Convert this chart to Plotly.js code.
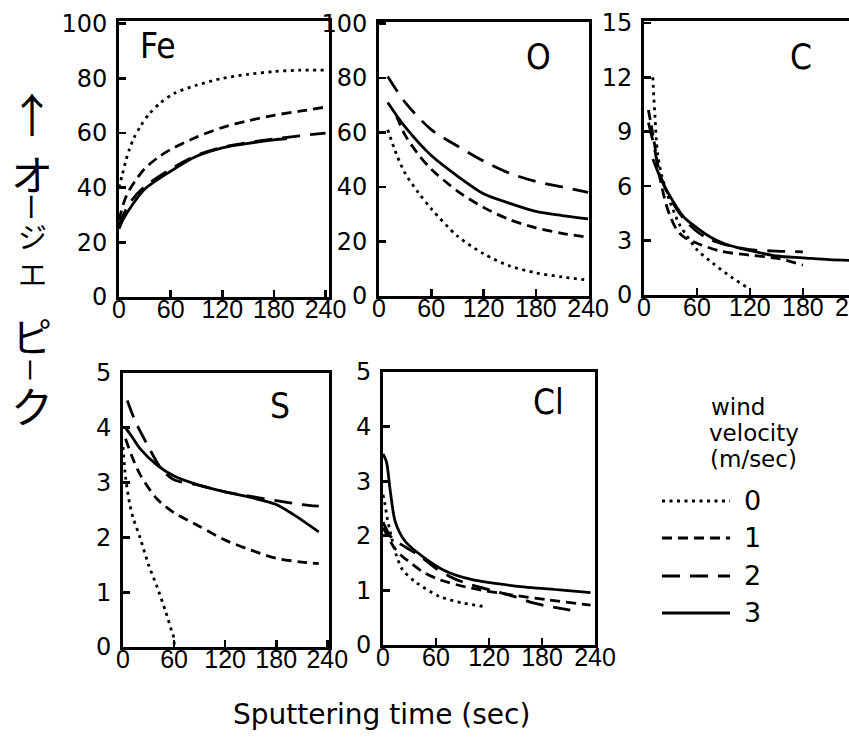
<!DOCTYPE html>
<html><head><meta charset="utf-8">
<script src="https://cdn.plot.ly/plotly-3.0.1.min.js"></script>
<style>html,body{margin:0;padding:0;overflow:hidden;background:#fff}#chart{width:875px;height:739px}</style>
</head><body><div id="chart"></div><script>
// ---- data (sputtering time in sec, Auger peak height) ----
const velocities = ['0','1','2','3'];
// Fe
const feT0=[0,4,8,12,17,25,35,48,64,90,120,150,180,210,240];
const feV0=[40,45,50,54,58,62.5,67,71,74.5,77.5,80,81.5,82.5,83,83];
const feT1=[0,5,10,20,30,45,60,90,120,150,180,210,240];
const feV1=[28,34,38,43,47,51,54,58.5,62,64.5,66.5,68,69.5];
const feT2=[0,5,15,30,60,90,120,150,180,210,240];
const feV2=[26,30,35.5,40.5,46.8,51.8,54.8,56.5,57.8,59,60];
const feT3=[0,5,15,30,60,90,120,150,180,195];
const feV3=[25,28.5,33.5,39.5,46,51.5,54.6,56.2,57.5,58];
// O
const oT0=[10,20,30,45,60,90,120,150,180,210,240];
const oV0=[61,52,45,38,32,22,15.5,11,8.5,7,5.8];
const oT1=[20,30,45,60,90,120,150,180,210,240];
const oV1=[66,59,52,46.5,38.5,32.5,28,25,23,21.5];
const oT2=[10,30,60,90,120,150,180,210,240];
const oV2=[80.5,71,61,55,49.5,45,42,40,38];
const oT3=[10,30,60,90,120,150,180,210,240];
const oV3=[71,62,51.5,44,37.5,34,31,29.5,28.3];
// C
const cT0=[10,11,12.5,14,16,20,29,40,48,60,78,100,116,120];
const cV0=[12,11,9.8,8.5,7.6,6.6,5.2,3.9,3.3,2.5,1.75,0.95,0.45,0.35];
const cT1=[5,8,12,16,20,25,30,37,45,60,88,119,153,180];
const cV1=[10.2,9.4,8.3,7.0,6.0,5.0,4.3,3.6,3.2,2.85,2.4,2.2,2.0,1.65];
const cT2=[5,10,15,20,30,45,60,75,90,120,150,180];
const cV2=[9.5,8.5,7.3,6.4,5.3,4.2,3.5,3.05,2.8,2.5,2.42,2.38];
const cT3=[10,20,30,45,60,75,90,105,120,150,180,210,240];
const cV3=[7.5,6.3,5.4,4.3,3.7,3.2,2.85,2.62,2.45,2.15,2.05,1.95,1.9];
// S
const sT0=[0,3,8,12,20,30,40,50,57,60,60];
const sV0=[3.65,3.1,2.6,2.35,2.0,1.5,1.1,0.65,0.3,0.15,0];
const sT1=[3,10,20,40,60,90,120,150,180,210,230];
const sV1=[3.8,3.5,3.15,2.7,2.45,2.2,1.95,1.77,1.62,1.55,1.52];
const sT2=[5,15,30,45,60,90,120,150,180,210,230];
const sV2=[4.5,4.1,3.65,3.25,3.05,2.95,2.83,2.75,2.67,2.6,2.57];
const sT3=[3,10,20,40,60,90,120,150,180,200,230];
const sV3=[4.0,3.85,3.62,3.32,3.12,2.95,2.83,2.73,2.6,2.42,2.1];
// Cl
const clT0=[0,2,5,10,15,22,38,64,90,117];
const clV0=[2.75,2.6,2.3,1.95,1.65,1.38,1.14,0.89,0.77,0.7];
const clT1=[0,5,12,20,30,45,65,100,145,185,235];
const clV1=[2.15,2.0,1.8,1.65,1.52,1.34,1.19,1.04,0.92,0.83,0.73];
const clT2=[0,8,15,30,42,60,80,100,130,150,170,190,212];
const clV2=[2.25,2.0,1.9,1.75,1.63,1.4,1.22,1.1,0.97,0.88,0.77,0.7,0.64];
const clT3=[0,4,8,14,25,45,70,100,150,200,235];
const clV3=[3.5,3.35,2.85,2.25,1.9,1.62,1.36,1.2,1.08,1.01,0.96];

const panelNames=['Fe','O','C','S','Cl'];
const xTicks=[0,60,120,180,240];
const yTicksFeO=[0,20,40,60,80,100];
const yTicksC=[0,3,6,9,12,15];
const yTicksSCl=[0,1,2,3,4,5];

// ---- layout helpers ----
const W=875,H=739;
const fx=p=>p/W, fy=p=>1-p/H;
const dashes=['3px,4.5px','10px,6px','18px,10px','solid'];
const LW=2.8;
const xfont='Liberation Sans, Arial, sans-serif';
const labfont='DejaVu Sans Condensed, DejaVu Sans, sans-serif';
const deja='DejaVu Sans, sans-serif';

const panels=[
 {T:[feT0,feT1,feT2,feT3],V:[feV0,feV1,feV2,feV3],x:[119,329],y:[21,297],xr:[0,244],yr:[0,101],yt:yTicksFeO,lab:[158,46]},
 {T:[oT0,oT1,oT2,oT3],V:[oV0,oV1,oV2,oV3],x:[379,589],y:[22,296],xr:[0,241],yr:[0,100.5],yt:yTicksFeO,lab:[538,57]},
 {T:[cT0,cT1,cT2,cT3],V:[cV0,cV1,cV2,cV3],x:[644,862],y:[21,295],xr:[0,247],yr:[0,15.1],yt:yTicksC,lab:[801,57]},
 {T:[sT0,sT1,sT2,sT3],V:[sV0,sV1,sV2,sV3],x:[123,329],y:[373,647],xr:[0,242],yr:[0,5],yt:yTicksSCl,lab:[280,406]},
 {T:[clT0,clT1,clT2,clT3],V:[clV0,clV1,clV2,clV3],x:[383,595],y:[372,645],xr:[0,240],yr:[0,5],yt:yTicksSCl,lab:[548,402]}
];

const data=[]; const layout={width:W,height:H,margin:{l:0,r:0,t:0,b:0},paper_bgcolor:'#fff',plot_bgcolor:'#fff',showlegend:false,annotations:[],shapes:[]};
panels.forEach((p,i)=>{
  const n=i===0?'':String(i+1);
  for(let k=0;k<4;k++){
    data.push({x:p.T[k],y:p.V[k],xaxis:'x'+n,yaxis:'y'+n,type:'scatter',mode:'lines',name:velocities[k],
      line:{color:'#000',width:LW,dash:dashes[k],shape:'spline',smoothing:0.8},hoverinfo:'skip'});
  }
  const common={showline:true,linecolor:'#000',linewidth:2.8,mirror:true,ticks:'inside',ticklen:7,tickwidth:2.6,tickcolor:'#000',showgrid:false,zeroline:false,fixedrange:true,ticklabeloverflow:'allow'};
  layout['xaxis'+n]=Object.assign({},common,{anchor:'y'+n,domain:[fx(p.x[0]),fx(p.x[1])],range:p.xr,tickmode:'array',tickvals:xTicks,ticktext:xTicks.map(String),tickfont:{family:xfont,size:25,color:'#000'},ticklabelstandoff:-12});
  layout['yaxis'+n]=Object.assign({},common,{anchor:'x'+n,domain:[fy(p.y[1]),fy(p.y[0])],range:p.yr,tickmode:'array',tickvals:p.yt,ticktext:p.yt.map(String),tickfont:{family:deja,size:24,color:'#000'},ticklabelstandoff:4});
  layout.annotations.push({xref:'paper',yref:'paper',x:fx(p.lab[0]),y:fy(p.lab[1]),text:panelNames[i],showarrow:false,xanchor:'center',yanchor:'middle',font:{family:labfont,size:35,color:'#000'}});
});

// legend (wind velocity)
const legTitle=[['wind',738,407],['velocity',754,433],['(m/sec)',753,459]];
legTitle.forEach(t=>layout.annotations.push({xref:'paper',yref:'paper',x:fx(t[1]),y:fy(t[2]),text:t[0],showarrow:false,xanchor:'center',yanchor:'middle',font:{family:deja,size:23,color:'#000'}}));
const legY=[501,538,576,613];
velocities.forEach((v,k)=>{
  layout.shapes.push({type:'line',xref:'paper',yref:'paper',x0:fx(662),x1:fx(730),y0:fy(legY[k]),y1:fy(legY[k]),line:{color:'#000',width:LW,dash:dashes[k]}});
  layout.annotations.push({xref:'paper',yref:'paper',x:fx(752),y:fy(legY[k]-1),text:v,showarrow:false,xanchor:'center',yanchor:'middle',font:{family:deja,size:27,color:'#000'}});
});

// x title
layout.annotations.push({xref:'paper',yref:'paper',x:fx(381),y:fy(714),text:'Sputtering time (sec)',showarrow:false,xanchor:'center',yanchor:'middle',font:{family:deja,size:28,color:'#000'}});

// y title (vertical Japanese)
const jp='Noto Sans CJK JP, sans-serif';
const jchars=[['↑',112,46,0],['オ',172,42,0],['ー',207,28,90],['ジ<br>エ',254,29,0],['ピ',335,40,0],['ー',370,24,90],['ク',404,42,0]];
jchars.forEach(c=>layout.annotations.push({xref:'paper',yref:'paper',x:fx(32),y:fy(c[1]),text:c[0],showarrow:false,xanchor:'center',yanchor:'middle',textangle:c[3],font:{family:jp,size:c[2],color:'#000'}}));

Plotly.newPlot('chart',data,layout,{displayModeBar:false,staticPlot:true});
</script></body></html>
